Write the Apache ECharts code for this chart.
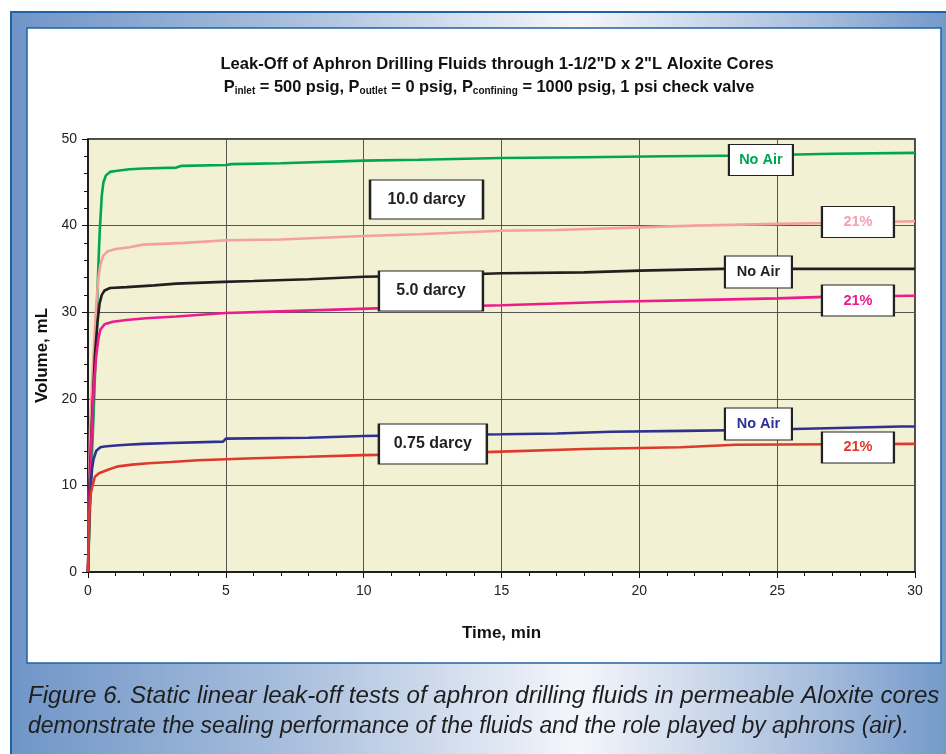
<!DOCTYPE html>
<html><head><meta charset="utf-8">
<script src="https://cdn.jsdelivr.net/npm/echarts@6/dist/echarts.min.js"></script>
<style>html,body{margin:0;padding:0;background:#fff}#c{width:946px;height:754px}</style>
</head><body><div id="c"></div>
<script>
// ---- Data (time in min, volume in mL) ----
const xTicks = [0, 5, 10, 15, 20, 25, 30];
const yTicks = [0, 10, 20, 30, 40, 50];

const noAir10 = [[0,0],[0.05,5],[0.1,10],[0.2,18],[0.3,27],[0.35,33],[0.42,39],[0.5,43.5],[0.56,45],[0.65,45.8],[0.8,46.2],[1.0,46.3],[1.5,46.5],[2,46.6],[3.2,46.7],[3.4,46.9],[5,47.0],[5.2,47.1],[7,47.2],[10,47.5],[12,47.6],[15,47.8],[18,47.9],[21,48.0],[24,48.1],[27,48.3],[30,48.4]];
const air10 = [[0,0],[0.02,6],[0.05,12],[0.08,17],[0.15,22],[0.2,25],[0.3,31],[0.38,34],[0.45,35.5],[0.55,36.5],[0.7,37],[1,37.3],[1.5,37.5],[2,37.8],[3.5,38],[5,38.3],[7,38.4],[10,38.8],[12,39],[15,39.4],[17,39.5],[20,39.8],[22,40],[25,40.2],[27,40.3],[30,40.5]];
const noAir5 = [[0,0],[0.05,10],[0.15,18],[0.25,25],[0.35,29],[0.42,31],[0.5,32],[0.6,32.5],[0.8,32.8],[1.4,32.9],[2.4,33.1],[3.2,33.3],[4.9,33.5],[6,33.6],[8,33.8],[10,34.1],[12,34.2],[15,34.5],[18,34.6],[20,34.8],[23,35.0],[30,35.0]];
const air5 = [[0,0],[0.05,8],[0.12,15],[0.2,21],[0.3,25],[0.38,27],[0.45,28],[0.6,28.6],[0.9,28.9],[1.4,29.1],[2.1,29.3],[3.2,29.5],[5,29.9],[7,30.1],[9,30.3],[11,30.5],[15,30.8],[17,31.0],[19,31.2],[22,31.4],[25,31.6],[27,31.8],[30,31.9]];
const noAir075 = [[0,0],[0.06,7.5],[0.1,10],[0.15,12],[0.2,13],[0.3,14],[0.45,14.4],[0.6,14.5],[1,14.6],[1.4,14.7],[2,14.8],[3,14.9],[4.9,15.05],[5,15.4],[8,15.5],[10,15.7],[12,15.8],[15,15.9],[17,16.0],[19,16.2],[21.6,16.3],[24,16.4],[26.8,16.6],[29.5,16.8],[30,16.8]];
const air075 = [[0,0],[0.05,7],[0.1,9],[0.15,9.8],[0.25,11],[0.4,11.4],[0.56,11.6],[0.8,11.9],[1.1,12.2],[1.6,12.4],[2.2,12.55],[3,12.7],[4,12.9],[5.75,13.1],[8,13.3],[10,13.5],[12,13.6],[15,13.9],[18,14.2],[21.5,14.4],[23.5,14.7],[27,14.75],[30,14.8]];

const seriesNames = ['10.0 darcy No Air','10.0 darcy 21%','5.0 darcy No Air','5.0 darcy 21%','0.75 darcy No Air','0.75 darcy 21%'];
const seriesColors = ['#00a651','#f4a19c','#231f20','#ec1c8c','#2e3192','#dd3a2c'];
const seriesData = [noAir10, air10, noAir5, air5, noAir075, air075];
const seriesLabels = ['No Air','21%','No Air','21%','No Air','21%'];
const labelColors = ['#00a651','#f4a0b4','#231f20','#ec1c8c','#2e3192','#dd3a2c'];
const labelCoords = [[24.41,47.57],[27.93,40.42],[24.32,34.64],[27.93,31.35],[24.32,17.09],[27.93,14.38]];
const labelSizes = [[64,31],[72,31],[67,32],[72,31],[67,32],[72,31]];

const darcyLabels = ['10.0 darcy','5.0 darcy','0.75 darcy'];
const darcyCoords = [[12.28,43.01],[12.44,32.45],[12.51,14.78]];
const darcySizes = [[113,39],[104,40],[108,40]];

const titleLine1 = 'Leak-Off of Aphron Drilling Fluids through 1-1/2"D x 2"L Aloxite Cores';
const captionLine1 = 'Figure 6. Static linear leak-off tests of aphron drilling fluids in permeable Aloxite cores';
const captionLine2 = 'demonstrate the sealing performance of the fluids and the role played by aphrons (air).';

const chart = echarts.init(document.getElementById('c'), null, {renderer:'canvas'});

const FONT = '"Liberation Sans", Arial, sans-serif';

const series = seriesData.map((d, i) => ({
  name: seriesNames[i], type: 'line', data: d, showSymbol: false, z: 3 + i,
  lineStyle: {color: seriesColors[i], width: 2.6}, itemStyle: {color: seriesColors[i]},
  animation: false,
  markPoint: {
    silent: true, z: 20, animation: false,
    data: [{coord: labelCoords[i], symbol: 'rect', symbolSize: labelSizes[i],
      itemStyle: {color: '#fff', borderColor: '#222', borderWidth: 1.5},
      label: {show: true, position: 'inside', formatter: seriesLabels[i], color: labelColors[i], fontFamily: FONT, fontWeight: 'bold', fontSize: 14.5}}]
  }
}));
series.push({
  type: 'line', data: [], silent: true,
  markPoint: {
    silent: true, z: 20, animation: false,
    data: darcyLabels.map((t, i) => ({coord: darcyCoords[i], symbol: 'rect', symbolSize: darcySizes[i],
      itemStyle: {color: '#fff', borderColor: '#222', borderWidth: 1.5},
      label: {show: true, position: 'inside', formatter: t, color: '#231f20', fontFamily: FONT, fontWeight: 'bold', fontSize: 16}}))
  }
});

chart.setOption({
  backgroundColor: '#fff',
  animation: false,
  graphic: [
    {type: 'rect', z: -10, shape: {x: 11, y: 12, width: 945, height: 750},
     style: {fill: new echarts.graphic.LinearGradient(0, 0, 1, 0, [
       {offset: 0, color: '#6f95c7'}, {offset: 0.3, color: '#a9bfdd'}, {offset: 0.6, color: '#f4f6fb'}, {offset: 0.85, color: '#a8bedd'}, {offset: 1, color: '#7097c9'}]),
       stroke: '#1f62a6', lineWidth: 2}},
    {type: 'rect', z: -9, shape: {x: 27, y: 28, width: 914, height: 635},
     style: {fill: '#fff', stroke: '#1f62a6', lineWidth: 1.5}},
    {type: 'text', z: 5, x: 497, y: 64, style: {text: titleLine1, font: 'bold 16.6px ' + FONT, fill: '#111', align: 'center', verticalAlign: 'middle'}},
    {type: 'text', z: 5, x: 489, y: 87, style: {
      text: '{b|P}{s|inlet}{b| = 500 psig, P}{s|outlet}{b| = 0 psig, P}{s|confining}{b| = 1000 psig, 1 psi check valve}',
      align: 'center', verticalAlign: 'middle',
      rich: {
        b: {fontFamily: FONT, fontWeight: 'bold', fontSize: 16.4, fill: '#111', lineHeight: 20},
        s: {fontFamily: FONT, fontWeight: 'bold', fontSize: 10, fill: '#111', lineHeight: 20, padding: [8, 0, 0, 0]}
      }}},
    {type: 'text', z: 5, x: 28, y: 697, scaleX: 1.05, originX: 0, originY: 0, style: {text: captionLine1, font: 'italic 23px ' + FONT, fill: '#1e1e1e', verticalAlign: 'middle'}},
    {type: 'text', z: 5, x: 28, y: 727, style: {text: captionLine2, font: 'italic 23px ' + FONT, fill: '#1e1e1e', verticalAlign: 'middle'}}
  ],
  grid: {left: 88, top: 139, width: 827, height: 433, show: true, backgroundColor: '#f3f1d3', borderColor: '#111', borderWidth: 1.5, containLabel: false},
  xAxis: {
    type: 'value', min: 0, max: 30, interval: 5,
    name: 'Time, min', nameLocation: 'middle', nameGap: 53,
    nameTextStyle: {fontFamily: FONT, fontWeight: 'bold', fontSize: 17, color: '#111'},
    axisLine: {show: true, onZero: false, lineStyle: {color: '#111', width: 1.5}},
    axisTick: {show: true, length: 6, lineStyle: {color: '#111'}},
    minorTick: {show: true, splitNumber: 5, length: 4, lineStyle: {color: '#111'}},
    axisLabel: {fontFamily: FONT, fontSize: 14, color: '#222', margin: 12, formatter: v => xTicks.includes(v) ? String(v) : ''},
    splitLine: {show: true, lineStyle: {color: '#555', width: 1}}
  },
  yAxis: {
    type: 'value', min: 0, max: 50, interval: 10,
    name: 'Volume, mL', nameLocation: 'middle', nameGap: 34, nameRotate: 90,
    nameTextStyle: {fontFamily: FONT, fontWeight: 'bold', fontSize: 17, color: '#111'},
    axisLine: {show: true, onZero: false, lineStyle: {color: '#111', width: 1.5}},
    axisTick: {show: true, length: 6, lineStyle: {color: '#111'}},
    minorTick: {show: true, splitNumber: 5, length: 4, lineStyle: {color: '#111'}},
    axisLabel: {fontFamily: FONT, fontSize: 14, color: '#222', margin: 11, formatter: v => yTicks.includes(v) ? String(v) : ''},
    splitLine: {show: true, lineStyle: {color: '#555', width: 1}}
  },
  series: series
});
</script></body></html>
